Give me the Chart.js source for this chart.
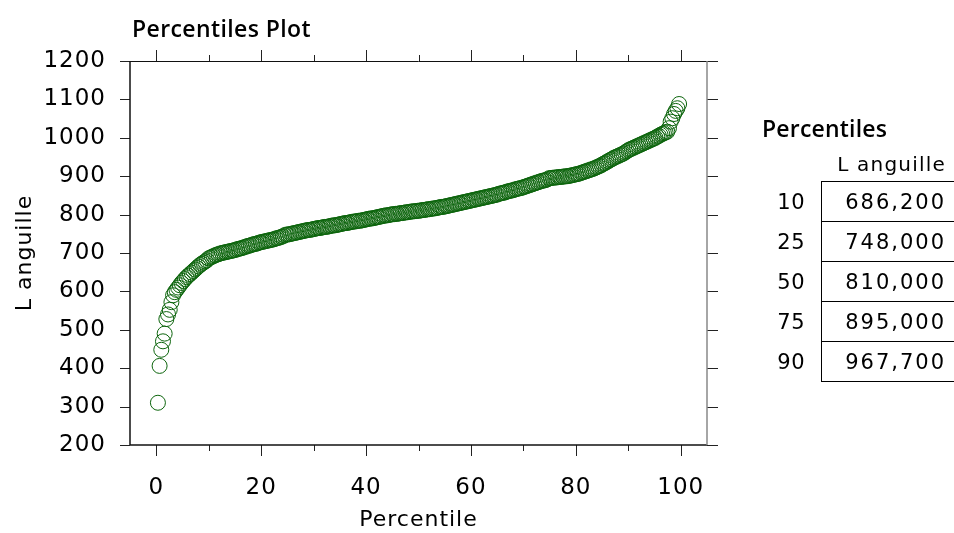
<!DOCTYPE html>
<html><head><meta charset="utf-8">
<script src="https://cdn.jsdelivr.net/npm/chart.js@4.4.0/dist/chart.umd.min.js"></script>
<style>
html,body{margin:0;padding:0;background:#fff;}
#wrap{position:relative;width:954px;height:533px;overflow:hidden;font-family:'DejaVu Sans',sans-serif;color:#000;}
canvas{position:absolute;left:0;top:0;}
.t{position:absolute;white-space:nowrap;}
.ln{position:absolute;background:#000;}
</style></head><body>
<div id="wrap"><canvas id="c" width="954" height="533"></canvas><div id="tbl"></div></div>
<script>
const lengths = [
 310,406,448,470,490,528,540,552,572,590,
 598,604,610,616,622,627,632,637,641,645,
 649,653,657,661,665,669,672,675,678,681,
 686,688,690,692,694,696,697,699,700,701,
 702,703,704,705,706,707,708,710,711,712,
 713,715,716,718,719,720,722,723,724,725,
 727,728,729,730,731,732,733,734,735,736,
 738,739,740,742,743,746,748,748,749,750,
 751,752,753,754,755,756,757,758,759,760,
 760,761,762,763,764,765,765,766,767,768,
 768,769,770,771,772,772,773,774,775,776,
 777,778,778,779,780,781,782,782,783,784,
 784,785,786,787,788,789,790,790,791,792,
 793,794,795,796,797,798,798,799,800,801,
 801,802,802,803,804,804,805,806,806,807,
 808,808,809,809,810,810,811,812,812,813,
 814,814,815,816,816,817,818,819,820,820,
 821,822,823,824,825,826,827,828,829,830,
 831,832,833,834,835,836,837,838,839,840,
 841,842,843,844,845,846,847,848,849,850,
 851,852,854,855,856,857,858,860,861,862,
 863,864,866,867,868,869,870,872,873,875,
 876,878,879,881,882,884,885,887,888,889,
 890,892,895,895,896,896,897,897,898,898,
 899,899,900,900,901,902,903,904,905,906,
 907,909,910,912,913,915,916,918,919,921,
 923,925,927,929,932,934,937,939,942,944,
 947,949,951,953,955,957,959,962,965,968,
 970,972,974,976,978,980,982,984,986,988,
 990,992,994,996,998,1000,1003,1005,1008,1010,
 1012,1014,1016,1025,1042,1051,1062,1070,1077,1088
];
const xMajorTicks = [0,20,40,60,80,100];
const xMinorTicks = [10,30,50,70,90];
const yTicks = [200,300,400,500,600,700,800,900,1000,1100,1200];
const pctLevels = [10,25,50,75,90];
const pctValues = [686.2,748,810,895,967.7];
const titleText = 'Percentiles Plot';
const xLabel = 'Percentile';
const yLabel = 'L anguille';
const tableTitle = 'Percentiles';
const tableHeader = 'L anguille';

const points = lengths.map((v,i)=>({x:(i+1)/(lengths.length+1)*100, y:v}));

Chart.defaults.font.family = "'DejaVu Sans', sans-serif";
Chart.defaults.color = '#000';

const frame = {
  id:'frame',
  beforeDraw(chart){ chart.ctx.letterSpacing = '1px'; },
  afterDraw(chart){
    const {ctx, chartArea:a, scales:{x,y}} = chart;
    ctx.save();
    ctx.lineWidth = 1; ctx.strokeStyle = '#222';
    const L=(x1,y1,x2,y2)=>{ctx.beginPath();ctx.moveTo(x1,y1);ctx.lineTo(x2,y2);ctx.stroke();};
    yTicks.forEach(v=>{const p=Math.round(y.getPixelForValue(v))+0.5; L(a.left-10,p,a.left,p); L(a.right,p,a.right+11,p);});
    xMajorTicks.forEach(v=>{const p=Math.round(x.getPixelForValue(v))+0.5; L(p,a.bottom,p,a.bottom+11); L(p,a.top,p,a.top-11);});
    xMinorTicks.forEach(v=>{const p=Math.round(x.getPixelForValue(v))+0.5; L(p,a.bottom,p,a.bottom+6); L(p,a.top,p,a.top-6);});
    ctx.lineWidth = 1.5; ctx.strokeStyle='#111';
    L(a.left,a.top,a.left,a.bottom);
    L(a.left,a.bottom,a.right,a.bottom);
    ctx.lineWidth = 1;
    L(a.left,Math.round(a.top)+0.5,a.right,Math.round(a.top)+0.5);
    ctx.lineWidth = 1.5; ctx.strokeStyle='#888';
    L(a.right,a.top,a.right,a.bottom);
    ctx.restore();
  }
};

new Chart(document.getElementById('c'), {
  type:'scatter',
  data:{datasets:[{data:points, pointStyle:'circle', pointRadius:7.5, pointHoverRadius:7.5,
    borderColor:'#0c640c', backgroundColor:'rgba(0,0,0,0)', borderWidth:1}]},
  options:{
    responsive:false, devicePixelRatio:1, animation:false,
    layout:{padding:{top:51,left:0,right:236,bottom:0}},
    plugins:{legend:{display:false}, tooltip:{enabled:false}, title:{display:false}},
    scales:{
      x:{type:'linear', position:'bottom', min:-5, max:105,
        afterBuildTicks:s=>{s.ticks = xMajorTicks.map(v=>({value:v}));},
        afterFit:s=>{s.height = 88;},
        grid:{display:false, drawTicks:false}, border:{display:false},
        ticks:{font:{size:23}, padding:29, maxRotation:0, color:'#000', callback:v=>String(v)},
        title:{display:true, text:xLabel, font:{size:22}, padding:{top:0,bottom:0}, color:'#000'}},
      x2:{type:'linear', position:'top', min:-5, max:105,
        afterFit:s=>{s.height = 10;},
        grid:{display:false, drawTicks:false}, border:{display:false}, ticks:{display:false}},
      y:{type:'linear', position:'left', min:200, max:1200,
        afterBuildTicks:s=>{s.ticks = yTicks.map(v=>({value:v}));},
        afterFit:s=>{s.width = 130;},
        grid:{display:false, drawTicks:false}, border:{display:false},
        ticks:{font:{size:23}, padding:24, color:'#000', callback:v=>String(v)},
        title:{display:true, text:yLabel, font:{size:22}, padding:{top:12,bottom:0}, color:'#000'}},
      y2:{type:'linear', position:'right', min:200, max:1200,
        afterFit:s=>{s.width = 11;},
        grid:{display:false, drawTicks:false}, border:{display:false}, ticks:{display:false}}
    }
  },
  plugins:[frame]
});

// Title and percentile table (HTML text)
const wrap = document.getElementById('wrap');
function txt(s, x, yc, opts){
  const d = document.createElement('div');
  d.className = 't';
  d.textContent = s;
  const size = opts.size, h = Math.round(size*1.4);
  d.style.fontSize = size+'px';
  d.style.lineHeight = h+'px';
  d.style.top = (yc - h/2)+'px';
  d.style.fontWeight = opts.weight || 'normal';
  if (opts.family) d.style.fontFamily = opts.family;
  d.style.letterSpacing = (opts.ls||0)+'px';
  if (opts.align==='right') d.style.right = (954 - x)+'px'; else d.style.left = x+'px';
  wrap.appendChild(d);
}
function line(x,y,w,h){const d=document.createElement('div');d.className='ln';d.style.left=x+'px';d.style.top=y+'px';d.style.width=w+'px';d.style.height=h+'px';wrap.appendChild(d);}

const boldFam = "'Open Sans', 'DejaVu Sans', sans-serif";
txt(titleText, 132, 28, {size:23, weight:600, family:boldFam, ls:0.4});
txt(tableTitle, 762, 128, {size:23, weight:600, family:boldFam, ls:0.2});
txt(tableHeader, 946, 164, {size:20, ls:1.2, align:'right'});
pctLevels.forEach((p,k)=>{
  const yc = 202 + k*40;
  txt(String(p), 805, yc, {size:21, ls:0.5, align:'right'});
  txt(pctValues[k].toFixed(3).replace('.', ','), 946, yc, {size:21, ls:2, align:'right'});
});
for (let k=0;k<=pctLevels.length;k++) line(821, 181 + k*40, 133, 1);
line(821, 181, 1, 201);
</script>
</body></html>
